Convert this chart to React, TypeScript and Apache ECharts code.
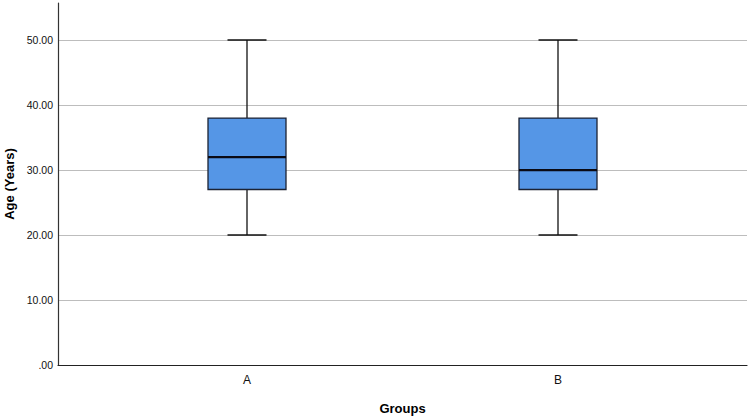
import React, { useEffect, useRef } from "react";
import * as echarts from "echarts";

const categories = ["A", "B"];
// [min, Q1, median, Q3, max]
const boxValues = [
  [20, 27, 32, 38, 50],
  [20, 27, 30, 38, 50],
];
const yMin = 0;
const yMax = 55.7;
const yInterval = 10;

export default function App() {
  const ref = useRef<HTMLDivElement>(null);
  useEffect(() => {
    const chart = echarts.init(ref.current!, null, { renderer: "svg" });
    const font = "'Liberation Sans', Arial, sans-serif";
    const data = boxValues.map((v, i) => [i, ...v]);
    chart.setOption({
      animation: false,
      backgroundColor: "#ffffff",
      grid: [
        { left: 58, right: 3, top: 3, bottom: 54, containLabel: false, outerBoundsMode: "none" },
        { left: 91.5, right: 36.5, top: 3, bottom: 54, containLabel: false, outerBoundsMode: "none" },
      ],
      xAxis: [
        {
          type: "category",
          gridIndex: 0,
          data: [""],
          axisLine: { show: true, lineStyle: { color: "#222", width: 1.2 } },
          axisTick: { show: false },
          axisLabel: { show: false },
          name: "Groups",
          nameLocation: "middle",
          nameGap: 37,
          nameTextStyle: { fontFamily: font, fontSize: 13, fontWeight: "bold", color: "#000" },
        },
        {
          type: "category",
          gridIndex: 1,
          data: categories,
          axisLine: { show: false },
          axisTick: { show: false },
          axisLabel: { fontFamily: font, fontSize: 12, color: "#111", margin: 9 },
        },
      ],
      yAxis: [
        {
          type: "value",
          gridIndex: 0,
          min: yMin,
          max: yMax,
          interval: yInterval,
          axisLine: { show: true, lineStyle: { color: "#333", width: 1.2 } },
          axisTick: { show: false },
          axisLabel: {
            fontFamily: font,
            fontSize: 10.5,
            color: "#111",
            margin: 5,
            showMaxLabel: false,
            formatter: (v: number) => (v % 10 !== 0 ? "" : v === 0 ? ".00" : v.toFixed(2)),
          },
          splitLine: { show: true, showMinLine: false, showMaxLine: false, lineStyle: { color: "#bdbdbd", width: 1 } },
          name: "Age (Years)",
          nameLocation: "middle",
          nameGap: 40,
          nameTextStyle: { fontFamily: font, fontSize: 13, fontWeight: "bold", color: "#000" },
        },
        {
          type: "value",
          gridIndex: 1,
          min: yMin,
          max: yMax,
          show: false,
        },
      ],
      series: [
        {
          type: "custom",
          xAxisIndex: 1,
          yAxisIndex: 1,
          data,
          encode: { x: 0, y: [1, 2, 3, 4, 5] },
          renderItem: (params: any, api: any) => {
            const idx = api.value(0);
            const bw = 78;
            const cw = 39;
            const pMin = api.coord([idx, api.value(1)]);
            const pQ1 = api.coord([idx, api.value(2)]);
            const pMed = api.coord([idx, api.value(3)]);
            const pQ3 = api.coord([idx, api.value(4)]);
            const pMax = api.coord([idx, api.value(5)]);
            const cx = pMed[0];
            const lineStyle = { stroke: "#111", lineWidth: 1.3 };
            return {
              type: "group",
              children: [
                { type: "line", shape: { x1: cx, y1: pQ3[1], x2: cx, y2: pMax[1] }, style: lineStyle },
                { type: "line", shape: { x1: cx, y1: pQ1[1], x2: cx, y2: pMin[1] }, style: lineStyle },
                { type: "line", shape: { x1: cx - cw / 2, y1: pMax[1], x2: cx + cw / 2, y2: pMax[1] }, style: { stroke: "#111", lineWidth: 1.5 } },
                { type: "line", shape: { x1: cx - cw / 2, y1: pMin[1], x2: cx + cw / 2, y2: pMin[1] }, style: { stroke: "#111", lineWidth: 1.5 } },
                {
                  type: "rect",
                  shape: { x: cx - bw / 2, y: pQ3[1], width: bw, height: pQ1[1] - pQ3[1] },
                  style: { fill: "#5596e6", stroke: "#1c2333", lineWidth: 1.3 },
                },
                { type: "line", shape: { x1: cx - bw / 2, y1: pMed[1], x2: cx + bw / 2, y2: pMed[1] }, style: { stroke: "#0a0a14", lineWidth: 2.2 } },
              ],
            };
          },
        },
      ],
    });
    return () => chart.dispose();
  }, []);
  return <div ref={ref} style={{ position: "fixed", left: 0, top: 0, width: 750, height: 419 }} />;
}
